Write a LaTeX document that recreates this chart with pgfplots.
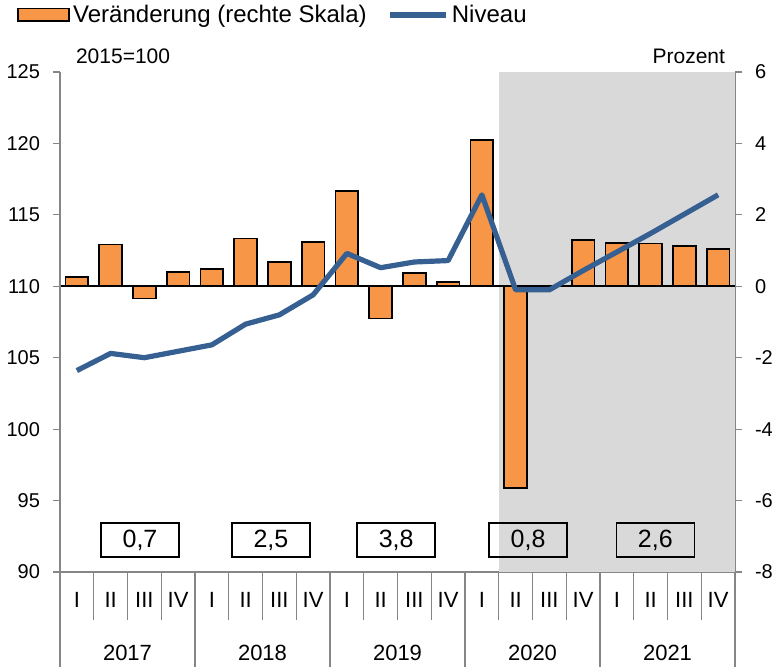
\documentclass[border=0pt]{standalone}
\usepackage{fontspec}
\setmainfont{Liberation Sans}
\usepackage{pgfplots}
\usepackage{pgfplotstable}
\pgfplotsset{compat=1.18}

\definecolor{barorange}{RGB}{247,150,70}
\definecolor{lineblue}{RGB}{55,96,146}
\definecolor{shadegray}{RGB}{217,217,217}
\definecolor{axisgray}{RGB}{134,134,134}

% quarter index, change vs. previous quarter (right scale), level 2015=100 (left scale)
\pgfplotstableread{
q chg lvl
0 0.25 104.1
1 1.17 105.3
2 -0.34 105.0
3 0.40 105.45
4 0.49 105.9
5 1.34 107.35
6 0.68 108.0
7 1.23 109.4
8 2.66 112.3
9 -0.90 111.3
10 0.37 111.7
11 0.11 111.8
12 4.09 116.4
13 -5.64 109.75
14 0.0 109.75
15 1.29 111.1
16 1.21 112.4
17 1.20 113.7
18 1.12 115.05
19 1.05 116.4
}\data

\pgfplotsset{
  common/.style={
    scale only axis, width=337.5pt, height=250pt,
    at={(0,0)}, anchor=south west,
    xmin=-0.5, xmax=19.5,
    tick align=outside, major tick length=3.5pt,
    tick style={axisgray, line width=0.6pt},
    axis line style={axisgray, line width=0.6pt},
    tick label style={font=\fontsize{10}{12}\selectfont},
    clip=false,
  },
}

\begin{document}
\begin{tikzpicture}
\useasboundingbox (-30pt,-47.5pt) rectangle (357.5pt,286pt);

% bars, right scale
\begin{axis}[common,
  ymin=-8, ymax=6,
  axis y line*=right, axis x line*=bottom,
  ytick={-8,-6,...,6}, yticklabels={-8,-6,-4,-2,0,2,4,6},
  yticklabel style={xshift=3pt},
  xtick={0,...,19},
  xticklabels={I,II,III,IV,I,II,III,IV,I,II,III,IV,I,II,III,IV,I,II,III,IV},
  xtick style={draw=none},
  xticklabel style={font=\fontsize{11}{13}\selectfont, yshift=-3pt},
]
\fill[shadegray] (axis cs:12.5,-8) rectangle (axis cs:19.5,6);
\draw[black, line width=1pt] (axis cs:-0.5,0) -- (axis cs:19.5,0);
\pgfplotsinvokeforeach{0.5,1.5,2.5,4.5,5.5,6.5,8.5,9.5,10.5,12.5,13.5,14.5,16.5,17.5,18.5}{
  \draw[axisgray, line width=0.6pt] (axis cs:#1,-8) -- ++(0pt,-24pt);
}
\pgfplotsinvokeforeach{-0.5,3.5,7.5,11.5,15.5,19.5}{
  \draw[axisgray, line width=0.6pt] (axis cs:#1,-8) -- ++(0pt,-48pt);
}
\addplot[ybar, bar width=11.3pt, fill=barorange, draw=black, line width=0.9pt]
  table[x=q, y=chg] {\data};
\node[font=\fontsize{11}{13}\selectfont] at (axis cs:1.5,-8) [yshift=-40.5pt] {2017};
\node[font=\fontsize{11}{13}\selectfont] at (axis cs:5.5,-8) [yshift=-40.5pt] {2018};
\node[font=\fontsize{11}{13}\selectfont] at (axis cs:9.5,-8) [yshift=-40.5pt] {2019};
\node[font=\fontsize{11}{13}\selectfont] at (axis cs:13.5,-8) [yshift=-40.5pt] {2020};
\node[font=\fontsize{11}{13}\selectfont] at (axis cs:17.5,-8) [yshift=-40.5pt] {2021};
\node[anchor=south east, font=\fontsize{10.5}{12}\selectfont] at (rel axis cs:1,1) [xshift=-1.5pt, yshift=0.5pt] {Prozent};
\end{axis}

% level, left scale
\begin{axis}[common,
  ymin=90, ymax=125,
  axis y line*=left, axis x line=none,
  xtick=\empty,
  ytick={90,95,...,125}, yticklabels={90,95,100,105,110,115,120,125},
  yticklabel style={xshift=-3pt},
  legend columns=2,
  legend style={at={(0,1)}, anchor=west, xshift=-21.5pt, yshift=28.5pt,
    draw=none, fill=none, inner sep=0pt,
    font=\fontsize{12}{14}\selectfont,
    nodes={inner sep=1.5pt},
    /tikz/every even column/.append style={column sep=9pt}},
]
\addlegendimage{legend image code/.code={
  \draw[fill=barorange, draw=black, line width=0.9pt] (0pt,-3.2pt) rectangle (25.5pt,3.2pt);}}
\addlegendentry{Veränderung (rechte Skala)}
\addplot[lineblue, line width=2.6pt, line join=round,
  legend image code/.code={\draw[lineblue, line width=2.6pt] (0pt,0pt) -- (28pt,0pt);}]
  table[x=q, y=lvl] {\data};
\addlegendentry{Niveau}
\node[anchor=south west, font=\fontsize{10.5}{12}\selectfont] at (rel axis cs:0,1) [xshift=4.5pt, yshift=0.5pt] {2015=100};
\tikzset{box/.style={draw=black, line width=0.8pt, minimum width=39pt, minimum height=17pt,
  inner sep=0pt, font=\fontsize{12.5}{14}\selectfont}}
\node[box] at (axis cs:1.87,92.24) {0,7};
\node[box] at (axis cs:5.75,92.24) {2,5};
\node[box] at (axis cs:9.46,92.24) {3,8};
\node[box] at (axis cs:13.37,92.24) {0,8};
\node[box] at (axis cs:17.14,92.24) {2,6};
\end{axis}
\end{tikzpicture}
\end{document}
